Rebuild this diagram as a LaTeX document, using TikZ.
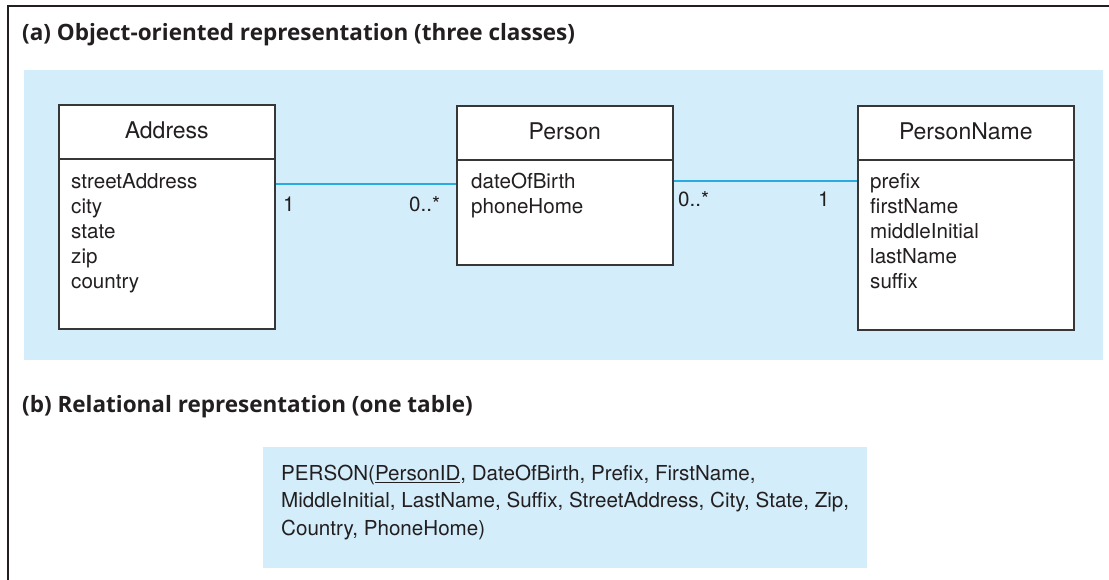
\documentclass[tikz,border=0pt]{standalone}
\usepackage{fontspec}
\setmainfont{TeX Gyre Heros}
\newfontfamily\titlefont{Open Sans}
\usetikzlibrary{calc}
\definecolor{panel}{RGB}{211,237,250}
\definecolor{assoccol}{RGB}{41,171,226}
\definecolor{ink}{RGB}{35,31,32}
\definecolor{boxline}{RGB}{55,55,55}
\tikzset{
  titletext/.style={anchor=base west, inner sep=0, text=ink, font=\titlefont\bfseries\fontsize{22.5}{27}\selectfont},
  classbox/.style={draw=boxline, line width=1.5pt, fill=white, anchor=north west, minimum width=216pt, inner sep=0},
  hdrtext/.style={anchor=base, inner sep=0, text=ink, font=\fontsize{23}{27}\selectfont},
  attrtext/.style={anchor=base west, inner sep=0, text=ink, font=\fontsize{20.6}{25}\selectfont},
  multtext/.style={anchor=base west, inner sep=0, text=ink, font=\fontsize{20.6}{25}\selectfont},
  assocline/.style={draw=assoccol, line width=1.5pt},
  relbox/.style={fill=panel, anchor=north west, minimum width=604pt, minimum height=121pt, inner sep=0},
  reltext/.style={anchor=base west, inner sep=0, text=ink, font=\fontsize{20.6}{27}\selectfont},
}
\begin{document}
\begin{tikzpicture}[x=1pt,y=-1pt]
\useasboundingbox (0,0) rectangle (1109,579);
\fill[white] (0,0) rectangle (1109,579);
% outer frame
\draw[ink, line width=2pt] (8,580) -- (8,6) -- (1110,6);
% panel (a)
\fill[panel] (24,70) rectangle (1103,360);
\node[titletext] (ta) at (22,40) {(a) Object-oriented representation (three classes)};
% class boxes
\node[classbox, minimum height=224pt] (addr) at (58,104) {};
\node[classbox, minimum height=159pt] (person) at (456,105) {};
\node[classbox, minimum height=224pt] (pname) at (857,105) {};
\draw[boxline, line width=1.5pt] (addr.west |- 0,159) -- (addr.east |- 0,159);
\draw[boxline, line width=1.5pt] (person.west |- 0,160) -- (person.east |- 0,160);
\draw[boxline, line width=1.5pt] (pname.west |- 0,160) -- (pname.east |- 0,160);
\node[hdrtext] (addr-h) at (addr.north |- 0,138) {Address};
\node[hdrtext] (person-h) at (person.north |- 0,139) {Person};
\node[hdrtext] (pname-h) at (pname.north |- 0,139) {PersonName};
\foreach \t [count=\i from 0] in {streetAddress,city,state,zip,country}
  \node[attrtext] (addr-a\i) at (71,{188+25*\i}) {\t};
\foreach \t [count=\i from 0] in {dateOfBirth,phoneHome}
  \node[attrtext] (person-a\i) at (471,{188+25*\i}) {\t};
\foreach \t [count=\i from 0] in {prefix,firstName,middleInitial,lastName,suffix}
  \node[attrtext] (pname-a\i) at (870,{188+25*\i}) {\t};
% associations
\coordinate (c1) at (0,184);
\coordinate (c2) at (0,181);
\draw[assocline] (addr.east |- c1) -- (person.west |- c1);
\draw[assocline] (person.east |- c2) -- (pname.west |- c2);
\node[multtext] (m1) at (283,211) {1};
\node[multtext] (m2) at (409,211) {0..*};
\node[multtext] (m3) at (678,206) {0..*};
\node[multtext] (m4) at (818,206) {1};
% (b)
\node[titletext] (tb) at (22,412) {(b) Relational representation (one table)};
\node[relbox] (rel) at (263,447) {};
\node[reltext] (r1) at (281,480) {PERSON(\underline{PersonID}, DateOfBirth, Prefix, FirstName,};
\node[reltext] (r2) at (281,507.5) {MiddleInitial, LastName, Suffix, StreetAddress, City, State, Zip,};
\node[reltext] (r3) at (281,535) {Country, PhoneHome)};
\end{tikzpicture}
\end{document}
